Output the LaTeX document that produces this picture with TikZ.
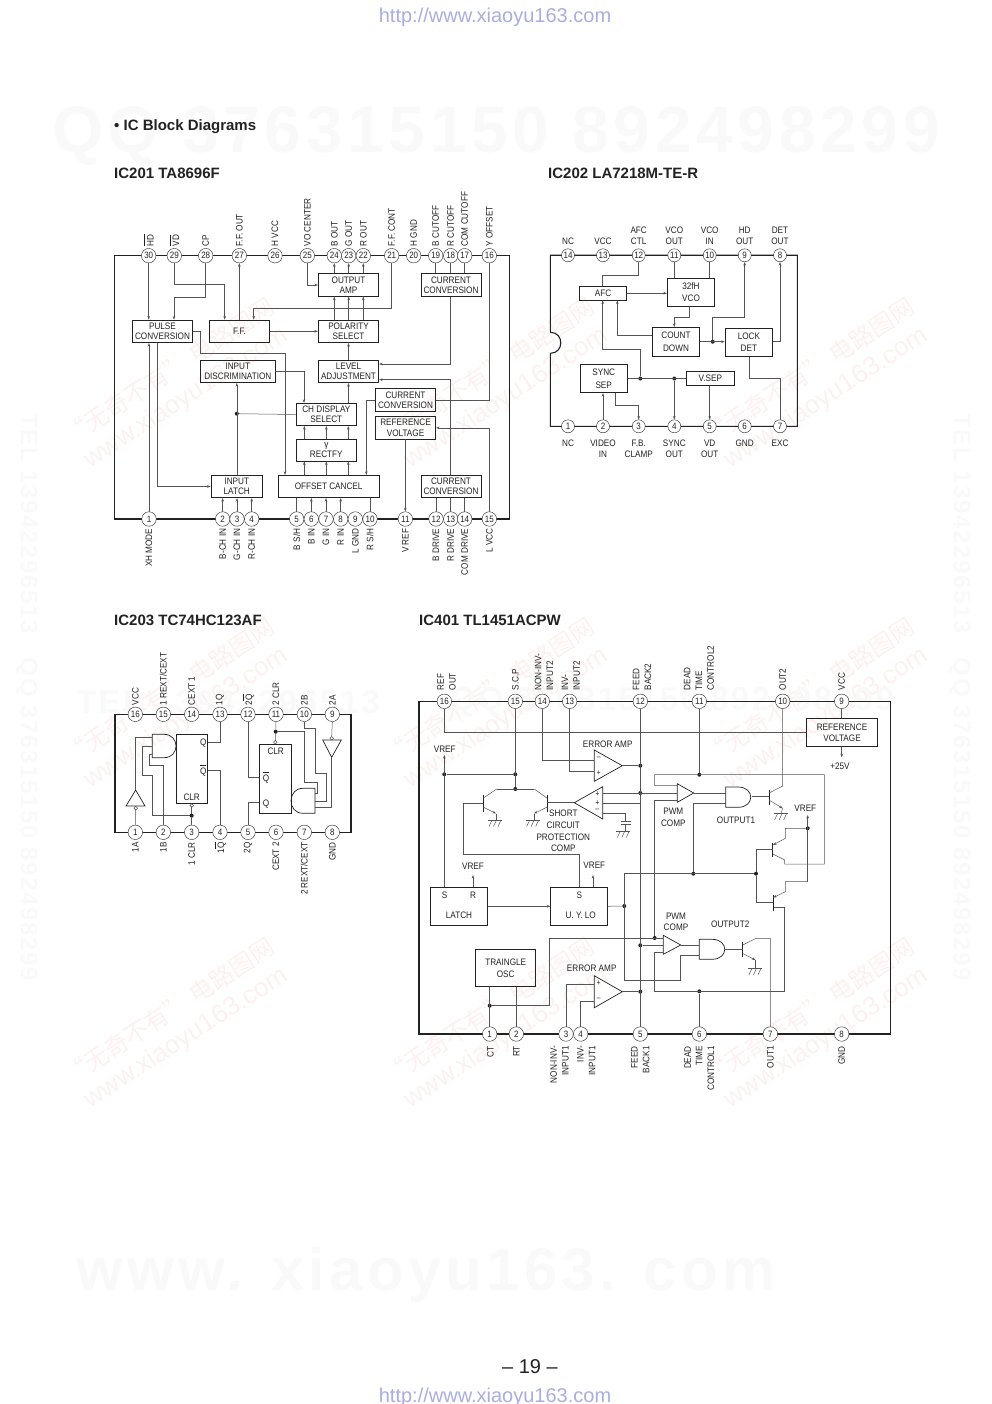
\documentclass[tikz,border=0pt]{standalone}
\usepackage{xcolor}
\usepackage{fontspec}
\setmainfont{Liberation Sans}[FakeStretch=0.87]
\newfontfamily\plainfont{Liberation Sans}
\newfontfamily\cjk{Noto Sans CJK SC}
\newfontfamily\wmfont{Liberation Sans}[LetterSpace=7]
\usetikzlibrary{arrows.meta,calc}
\definecolor{ink}{HTML}{222222}
\definecolor{trace}{HTML}{555555}
\definecolor{urlblue}{HTML}{A9ADE0}
\definecolor{stamp}{HTML}{FDF0EF}
\definecolor{ghost}{HTML}{F9F9F9}
\newcommand{\ovl}[1]{$\overline{\hbox{\rule{0pt}{7.8pt}#1}}$}
\tikzset{
  chip/.style={draw=ink,line width=1.1pt},
  pinc/.style={circle,draw=ink,line width=0.4pt,fill=white,minimum size=14.5pt,inner sep=0pt,font=\fontsize{9.2}{9.5}\selectfont,text=ink},
  toplbl/.style={rotate=90,anchor=west,align=left,inner sep=0pt,font=\fontsize{9.4}{11.7}\selectfont,text=ink},
  botlbl/.style={rotate=90,anchor=east,align=right,inner sep=0pt,font=\fontsize{9.4}{11.7}\selectfont,text=ink},
  blk/.style 2 args={draw=ink,line width=0.7pt,minimum width=#1pt,minimum height=#2pt,inner sep=0pt,align=center,text=ink,font=\fontsize{9.4}{10.2}\selectfont},
  blkb/.style 2 args={blk={#1}{#2},font=\fontsize{9.4}{12.2}\selectfont},
  wire/.style={draw=trace,line width=0.5pt},
  arrow/.style={wire,-{Stealth[length=3.6pt,width=2.6pt]}},
  dot/.style={circle,fill=ink,minimum size=4pt,inner sep=0pt},
  bubble/.style={circle,draw=ink,line width=0.4pt,fill=white,minimum size=3.6pt,inner sep=0pt},
  lbl/.style={inner sep=0pt,align=center,text=ink,font=\fontsize{9.4}{11.6}\selectfont},
  sign/.style={inner sep=0pt,text=ink,font=\fontsize{8}{8}\selectfont},
  gate/.style={draw=ink,line width=0.7pt},
  bar/.style={draw=ink,line width=1pt},
  title/.style={anchor=west,inner sep=0pt,text=ink,font=\fontsize{15}{17}\selectfont\plainfont\bfseries},
  gndsym/.pic={
    \draw[wire] (-7,0) -- (7,0);
    \foreach \k in {-4.5,0,4.5} \draw[wire] (\k+1.5,0) -- (\k-1.5,6.5);
  },
}
\begin{document}
\begin{tikzpicture}[x=1pt,y=-1pt]
  \useasboundingbox (0,0) rectangle (992,1404);
  % pale stamps behind the page
  \foreach \cx in {178,498,818} \foreach \cy in {385,705,1025} {
    \node[rotate=33,inner sep=0pt,text=stamp,align=center,font=\fontsize{24}{32}\selectfont\plainfont] at (\cx,\cy) {{\cjk “无奇不有” 电路图网}\\[-2pt]\fontsize{26}{30}\selectfont www.xiaoyu163.com};
  }
  \node[inner sep=0pt,text=ghost,font=\fontsize{66}{70}\selectfont\wmfont\bfseries] (wm1) at (496,136) {QQ 376315150 892498299};
  \node[inner sep=0pt,text=ghost,font=\fontsize{33}{36}\selectfont\wmfont\bfseries] (wm2) at (228,702) {TEL 13942296513};
  \node[inner sep=0pt,text=ghost,font=\fontsize{33}{36}\selectfont\wmfont\bfseries] (wm3) at (672,702) {QQ 376315150 892498299};
  \node[inner sep=0pt,text=ghost,font=\fontsize{60}{64}\selectfont\wmfont\bfseries] (wm4) at (426,1275) {www. xiaoyu163. com};
  \node[rotate=-90,inner sep=0pt,text=ghost,font=\fontsize{24}{26}\selectfont\wmfont\bfseries] (wm5) at (27,697) {TEL 13942296513\quad QQ 376315150 892498299};
  \node[rotate=-90,inner sep=0pt,text=ghost,font=\fontsize{24}{26}\selectfont\wmfont\bfseries] (wm6) at (960,697) {TEL 13942296513\quad QQ 376315150 892498299};

  \node[inner sep=0pt,text=urlblue,font=\fontsize{20}{22}\selectfont\plainfont] (urltop) at (495,17) {http://www.xiaoyu163.com};
  \node[inner sep=0pt,text=urlblue,font=\fontsize{20}{22}\selectfont\plainfont] (urlbot) at (495,1397) {http://www.xiaoyu163.com};
  \node[inner sep=0pt,text=ink,font=\fontsize{20}{22}\selectfont\plainfont] (pageno) at (530,1367) {– 19 –};
  \node[title] (head) at (114,126.5) {• IC Block Diagrams};
  \node[title] (t201) at (114,173) {IC201\ TA8696F};
  \node[title] (t202) at (548,173) {IC202\ LA7218M-TE-R};
  \node[title] (t203) at (114,620.5) {IC203\ TC74HC123AF};
  \node[title] (t401) at (419,620) {IC401\ TL1451ACPW};

  % IC201
  \draw[chip] (114.7,255.7) rectangle (509.7,519);
  \foreach \n/\x/\txt in {30/148.7/\ovl{HD},29/174.3/\ovl{VD},28/205.7/CP,27/239.3/F.F. OUT,26/275/H VCC,25/307.3/VO CENTER,24/334.3/B OUT,23/348.7/G OUT,22/363.3/R OUT,21/391.7/F.F. CONT,20/413.7/H GND,19/435.7/B CUTOFF,18/450.7/R CUTOFF,17/464.7/COM CUTOFF,16/489.3/Y OFFSET} {
    \node[pinc] (a\n) at (\x,255.7) {\n};
    \node[toplbl] (la\n) at (\x,246.5) {\txt};
  }
  \foreach \n/\x/\txt in {1/149/XH MODE,2/222.7/B-CH IN,3/237/G-CH IN,4/251.7/R-CH IN,5/296.7/B S/H,6/311.3/B IN,7/326/G IN,8/340.7/R IN,9/355.3/L GND,10/370/R S/H,11/405.3/V REF,12/436/B DRIVE,13/450.7/R DRIVE,14/464.7/COM DRIVE,15/489.3/L VCC} {
    \node[pinc] (a\n) at (\x,519) {\n};
  }
  \foreach \n/\x/\txt in {1/149/XH MODE,2/222.7/B-CH IN,3/237/G-CH IN,4/251.7/R-CH IN,6/311.3/B IN,7/326/G IN,8/340.7/R IN,9/355.3/L GND,11/405.3/V REF,12/436/B DRIVE,13/450.7/R DRIVE,14/464.7/COM DRIVE,15/489.3/L VCC}
    \node[botlbl] (lb\n) at (\x,528.5) {\txt};
  \node[botlbl] (lb5) at (296.7,528.5) {B S/H};
  \node[botlbl] (lb10) at (370,528.5) {R S/H};

  \node[blk={60.4}{22.6}] (oamp) at (348.5,285) {OUTPUT\\AMP};
  \node[blk={60}{22.6}] (cc1) at (451,285) {CURRENT\\CONVERSION};
  \node[blk={60.4}{22.6}] (pulse) at (162.5,331.3) {PULSE\\CONVERSION};
  \node[blk={60.4}{22.6}] (ff) at (239.5,331.3) {F.F.};
  \node[blk={60.4}{22.6}] (pol) at (348.5,331.3) {POLARITY\\SELECT};
  \node[blk={74.3}{22.4}] (indisc) at (237.8,371.5) {INPUT\\DISCRIMINATION};
  \node[blk={60.4}{22.4}] (level) at (348.5,371.5) {LEVEL\\ADJUSTMENT};
  \node[blk={60.4}{22.6}] (cc2) at (405.5,400) {CURRENT\\CONVERSION};
  \node[blk={60.4}{22.4}] (refv) at (405.5,427.8) {REFERENCE\\VOLTAGE};
  \node[blk={60.7}{22.4}] (chd) at (326.3,414.5) {CH DISPLAY\\SELECT};
  \node[blk={60.7}{22}] (rect) at (326.3,450) {γ\\RECTFY};
  \node[blk={51.7}{22.4}] (inlatch) at (236.8,486.5) {INPUT\\LATCH};
  \node[blk={101.3}{22.4}] (offs) at (328.6,486.5) {OFFSET CANCEL};
  \node[blk={60}{22.4}] (cc3) at (451,486.5) {CURRENT\\CONVERSION};
  \node[dot] (d201) at (236.8,413.7) {};

  \draw[arrow] (a30.south) -- (a30.south |- pulse.north);
  \draw[arrow] (a29.south) |- (224.7,284.3) -- (224.7,0 |- ff.north);
  \draw[arrow] (a28.south) |- (174,297.7) -- (174,0 |- pulse.north);
  \draw[arrow] (ff.north -| a27) -- (a27.south);
  \draw[arrow] (a25.south) |- (oamp.west);
  \foreach \n in {24,23,22} {
    \draw[arrow] (oamp.north -| a\n) -- (a\n.south);
    \draw[arrow] (pol.north -| a\n) -- (oamp.south -| a\n);
  }
  \draw[arrow] (a21.south) |- (253.7,308) -- (253.7,0 |- ff.north);
  \foreach \n in {19,18,17} \draw[wire] (a\n.south) -- (cc1.north -| a\n);
  \draw[arrow] (cc1.south -| a18) |- (level.east |- 0,364);
  \draw[arrow] (cc3.north -| a13) |- (level.east |- 0,379.7);
  \draw[wire] (a16.south) |- (cc2.east);
  \draw[arrow] (ff.east) -- (pol.west);
  \draw[arrow] (level.north) -- (pol.south);
  \draw[arrow] (chd.north -| level) -- (level.south);
  \draw[arrow] (indisc.east |- 0,371.7) -| (304,0 |- chd.north);
  \draw[arrow] (pulse.east) -| (200,353.3) -| (285,0 |- offs.north);
  \draw[arrow] (157.7,0 |- pulse.south) |- (inlatch.west);
  \draw[arrow] (a1.north) -- (a1.north |- pulse.south);
  \draw[arrow] (inlatch.north) -- (indisc.south -| inlatch);
  \draw[wire] (chd.west) -- (d201);
  \foreach \x in {304.3,326.3,348.3} {
    \draw[arrow] (\x,0 |- rect.north) -- (\x,0 |- chd.south);
    \draw[arrow] (\x,0 |- offs.north) -- (\x,0 |- rect.south);
  }
  \draw[arrow] (cc2.west) -| (366.3,0 |- offs.north);
  \draw[arrow] (a15.north) |- (refv.east);
  \draw[arrow] (refv.south -| a11) -- (a11.north);
  \foreach \n in {2,3,4} \draw[arrow] (a\n.north) -- (a\n.north |- inlatch.south);
  \foreach \n in {6,7,8} \draw[arrow] (a\n.north) -- (a\n.north |- offs.south);
  \foreach \n in {5,10} \draw[wire] (a\n.north) -- (a\n.north |- offs.south);
  \foreach \n in {12,13,14} \draw[wire] (a\n.north) -- (a\n.north |- cc3.south);

  % IC202
  \draw[chip] (550.3,332.3) -- (550.3,255.3) -- (797.3,255.3) -- (797.3,426.3) -- (550.3,426.3) -- (550.3,353.3) .. controls (564.3,353.3) and (564.3,332.3) .. (550.3,332.3);
  \foreach \n/\x/\txt in {14/568/NC,13/603/VCC,12/638.7/AFC\\CTL,11/674.3/VCO\\OUT,10/709.7/VCO\\IN,9/744.7/HD\\OUT,8/780/DET\\OUT} {
    \node[pinc,minimum size=13pt] (b\n) at (\x,255.3) {\n};
    \node[lbl,anchor=south] (lb\n) at (\x,245) {\txt};
  }
  \foreach \n/\x/\txt in {1/568/NC,2/603/VIDEO\\IN,3/638.7/F.B.\\CLAMP,4/674.3/SYNC\\OUT,5/709.7/VD\\OUT,6/744.7/GND,7/780/EXC} {
    \node[pinc,minimum size=13pt] (b\n) at (\x,426.3) {\n};
    \node[lbl,anchor=north] (lc\n) at (\x,439.5) {\txt};
  }
  \node[blkb={47.4}{13.7}] (afc) at (603,293.2) {AFC};
  \node[blkb={47.4}{28}] (vco) at (691,292.3) {32fH\\VCO};
  \node[blkb={47.4}{28.7}] (cnt) at (676,341.7) {COUNT\\DOWN};
  \node[blkb={47.7}{28.4}] (lock) at (748.9,342.5) {LOCK\\DET};
  \node[blkb={47.3}{28}] (sync) at (603.7,378.7) {SYNC\\SEP};
  \node[blkb={47.3}{14.4}] (vsep) at (710.3,378.5) {V.SEP};
  \node[dot] (d1) at (712.7,341.7) {};
  \node[dot] (d2) at (640.3,378.5) {};
  \node[dot] (d3) at (674.3,378.5) {};
  \draw[wire] (b12.south) |- (602.7,275.3) -- (602.7,0 |- afc.north);
  \draw[wire] (b11.south) -- (b11.south |- vco.north);
  \draw[wire] (b10.south) -- (b10.south |- vco.north);
  \draw[arrow] (afc.east) -- (vco.west |- afc.east);
  \draw[arrow] (689.7,0 |- vco.south) |- (674.3,317.3) -- (674.3,0 |- cnt.north);
  \draw[arrow] (cnt.west |- 0,335) -| (617.3,0 |- afc.south);
  \draw[arrow] (cnt.east) -- (lock.west |- cnt.east);
  \draw[arrow] (d1) |- (744.7,317.7) -- (b9.south);
  \draw[arrow] (lock.east |- d1) -| (b8.south);
  \draw[wire] (749.3,0 |- lock.south) |- (780,378.3) -- (b7.north);
  \draw[wire] (sync.east |- vsep.west) -- (vsep.west);
  \draw[arrow] (d2) |- (602.7,349.7) -- (602.7,0 |- afc.south);
  \draw[arrow] (d3) -- (b4.north);
  \draw[arrow] (vsep.south -| b5) -- (b5.north);
  \draw[arrow] (b2.north) -- (b2.north |- sync.south);
  \draw[arrow] (615.7,0 |- sync.south) |- (638.7,405.3) -- (b3.north);

  % IC203
  \draw[chip] (115,714.3) rectangle (351,832.3);
  \foreach \n/\x/\txt in {16/135.3/VCC,15/163.3/1 REXT/CEXT,14/191.7/CEXT 1,13/220/1Q,12/248/2\ovl{Q},11/276/2 CLR,10/304.3/2B,9/332.3/2A} {
    \node[pinc] (c\n) at (\x,714.3) {\n};
  }
  \foreach \n/\x/\txt in {16/135.3/VCC,14/191.7/CEXT 1,13/220/1Q,12/248/2\ovl{Q},11/276/2 CLR,10/304.3/2B,9/332.3/2A}
    \node[toplbl] (ld\n) at (\x,705.5) {\txt};
  \node[toplbl] (ld15) at (163.3,705.5) {1 REXT/CEXT};
  \foreach \n/\x in {1/135.3,2/163.3,3/191.7,4/220,5/248,6/276,7/304.3,8/332.3} \node[pinc] (c\n) at (\x,832.3) {\n};
  \foreach \n/\x/\txt in {1/135.3/1A,2/163.3/1B,3/191.7/1 CLR,4/220/1\ovl{Q},5/248/2Q,6/276/CEXT 2,8/332.3/GND}
    \node[botlbl] (le\n) at (\x,842) {\txt};
  \node[botlbl] (le7) at (304.3,842) {2 REXT/CEXT};

  \node[blk={31.4}{69}] (ffa) at (192,768.8) {};
  \node[blk={32}{69}] (ffb) at (275.3,778.8) {};
  \node[lbl] (qa) at (203.3,743.3) {Q};
  \node[lbl] (qna) at (203.3,770) {\ovl{Q}};
  \node[lbl] (clra) at (191.7,797.7) {CLR};
  \node[lbl] (qb) at (266,804.3) {Q};
  \node[lbl] (qnb) at (266,777) {\ovl{Q}};
  \node[lbl] (clrb) at (275.7,751.7) {CLR};
  \draw[gate] (152.3,734.3) -- (164,734.3) .. controls (180,734.3) and (180,757.7) .. (164,757.7) -- (152.3,757.7) -- cycle;
  \draw[gate] (315,788.3) -- (303,788.3) .. controls (287,788.3) and (287,813.3) .. (303,813.3) -- (315,813.3) -- cycle;
  \draw[gate] (135.7,790) -- (126,806) -- (145,806) -- cycle;
  \draw[gate] (331.7,757.3) -- (322.7,740) -- (341.3,740) -- cycle;
  \node[bubble] (inva) at (135.7,808.2) {};
  \node[bubble] (invb) at (331.7,738.3) {};
  \node[bubble] (bca) at (191.7,805.4) {};
  \node[bubble] (bcb) at (275.3,742.2) {};
  \node[dot] (dca) at (191.7,815.7) {};
  \node[dot] (dcb) at (275.7,731.7) {};
  \draw[wire] (c1.north) -- (inva.south);
  \draw[wire] (135.7,790) |- (152.3,737.7);
  \draw[wire] (152.3,746.7) -| (142.3,775) -| (152.3,815.7) -- (dca);
  \draw[wire] (c2.north) |- (149.3,765.7) |- (152.3,754.3);
  \draw[wire] (c3.north) -- (dca) -- (bca.south);
  \draw[wire] (ffa.east |- 0,742.3) -| (c13.south);
  \draw[wire] (ffa.east |- 0,770) -| (c4.north);
  \draw[wire] (c12.south) |- (ffb.west |- 0,777);
  \draw[wire] (c5.north) |- (ffb.west |- 0,802.5);
  \draw[wire] (c11.south) -- (dcb) -- (bcb.north);
  \draw[wire] (dcb) -| (304.3,782.3) -| (317.3,793.3) -- (315,793.3);
  \draw[wire] (c10.south) |- (315,728.3) |- (326,773.3) |- (315,801);
  \draw[wire] (c9.south) -- (invb.north);
  \draw[wire] (331.7,757.3) |- (315,807.7);

  % IC401
  \draw[chip] (419,701.3) rectangle (890.3,1034);
  \foreach \n/\x in {16/444.3,15/515.3,14/542.3,13/569.7,12/640.3,11/699.3,10/782.7,9/841.7} \node[pinc] (d\n) at (\x,701.3) {\n};
  \foreach \n/\x/\txt in {16/446.5/REF\\OUT,15/515.3/S.C.P,14/544/NON-INV-\\INPUT2,13/570.8/INV-\\INPUT2,12/642/FEED\\BACK2,11/699/DEAD\\TIME\\CONTROL2,10/782.7/OUT2,9/841.7/VCC}
    \node[toplbl] (lf\n) at (\x,690.5) {\txt};
  \foreach \n/\x in {1/489.7,2/516.3,3/566,4/580.7,5/640.3,6/699.3,7/770.3,8/841.7} \node[pinc] (d\n) at (\x,1034) {\n};
  \foreach \n/\x/\txt in {1/490.5/CT,2/516.3/RT,3/559.5/NON-INV-\\INPUT1,4/586.3/INV-\\INPUT1,5/640.3/FEED\\BACK1,6/699.3/DEAD\\TIME\\CONTROL1,7/770.3/OUT1,8/841.7/GND}
    \node[botlbl] (lg\n) at (\x,1046) {\txt};

  \node[blk={71.4}{28},font=\fontsize{9.4}{11}\selectfont] (refb) at (842,732.3) {REFERENCE\\VOLTAGE};
  \node[blk={57}{37.3}] (latch) at (458.8,906.3) {};
  \node[blk={56.6}{37.3}] (uylo) at (579,906.3) {};
  \node[blkb={60}{36.6}] (osc) at (505.7,968) {TRAINGLE\\OSC};
  \node[lbl] (ts1) at (444.7,895.7) {S};
  \node[lbl] (tr1) at (473,895.7) {R};
  \node[lbl] (tlatch) at (459,915.3) {LATCH};
  \node[lbl] (ts2) at (579.3,895.7) {S};
  \node[lbl] (tuy) at (580.7,915.3) {U. Y. LO};
  \node[lbl] (vr1) at (444.7,749.3) {VREF};
  \node[lbl] (vr2) at (473,866.3) {VREF};
  \node[lbl] (vr3) at (594.3,865.5) {VREF};
  \node[lbl] (vr4) at (805.3,808.3) {VREF};
  \node[lbl] (p25) at (840,766) {+25V};
  \node[lbl] (ea1) at (607.7,744.3) {ERROR AMP};
  \node[lbl] (ea2) at (591.7,968.3) {ERROR AMP};
  \node[lbl] (scp) at (563.3,831) {SHORT\\CIRCUIT\\PROTECTION\\COMP};
  \node[lbl] (pw1) at (673.3,817.5) {PWM\\COMP};
  \node[lbl] (pw2) at (676,921.7) {PWM\\COMP};
  \node[lbl] (ou1) at (736,820.3) {OUTPUT1};
  \node[lbl] (ou2) at (730.3,924.3) {OUTPUT2};

  % amps and comparators
  \draw[gate] (594.3,750) -- (622.3,765.7) -- (594.3,781.3) -- cycle;
  \draw[gate] (594.3,975.7) -- (622.3,991.7) -- (594.3,1007.7) -- cycle;
  \draw[gate] (602.7,786.7) -- (574.3,802.7) -- (602.7,819) -- cycle;
  \draw[gate] (677.3,783.7) -- (693.7,793) -- (677.3,802.3) -- cycle;
  \draw[gate] (663.3,935.3) -- (680.7,945) -- (663.3,954.3) -- cycle;
  \draw[gate] (725.7,787) -- (738,787) .. controls (755,787) and (755,807.3) .. (738,807.3) -- (725.7,807.3) -- cycle;
  \draw[gate] (699.3,939.3) -- (712,939.3) .. controls (729,939.3) and (729,959.3) .. (712,959.3) -- (699.3,959.3) -- cycle;
  \node[sign] (s1) at (598.7,758.3) {–};
  \node[sign] (s2) at (598.7,773.3) {+};
  \node[sign] (s3) at (598.7,983.3) {+};
  \node[sign] (s4) at (598.7,999.3) {–};
  \node[sign] (s5) at (597.3,794) {+};
  \node[sign] (s6) at (597.3,803.3) {+};
  \node[sign] (s7) at (597.3,810.3) {–};

  % dots
  \foreach \nm/\x/\y in {e1/444.3/774.3,e2/515.3/774.3,e3/515.3/789,e4/640.3/765.7,e5/640.3/793,e6/699.3/774.7,e7/807.7/828.3,e8/693.3/873.7,e9/756/873.7,e10/624.3/906,e11/654.7/938,e12/640.3/945.3,e13/640.3/991.7,e14/699.3/991.3,e15/489.7/1005.7}
    \node[dot] (\nm) at (\x,\y) {};

  % wires
  \draw[wire] (d16.south) |- (refb.west);
  \draw[wire] (d9.south) -- (d9.south |- refb.north);
  \draw[arrow] (refb.south -| d9) -- (841.7,757.3);
  \draw[wire] (d15.south) -- (e3);
  \draw[arrow] (444.3,0 |- latch.north) -- (444.3,755);
  \draw[wire] (e1) -- (e2);
  \draw[wire] (d14.south) |- (594.3,760);
  \draw[wire] (d13.south) |- (594.3,771.7);
  \draw[wire] (622.3,765.7) -- (e4);
  \draw[wire] (d12.south) -- (d5.north);
  \draw[wire] (602.7,793) -- (677.3,793);
  \draw[wire] (602.7,803.3) -- (640.3,803.3);
  \draw[wire] (602.7,813.3) -| (625.7,821.7);
  \draw[wire] (621,821.7) -- (630.5,821.7) (621,824.5) -- (630.5,824.5) (625.7,824.5) -- (625.7,831);
  \pic at (623.3,831) {gndsym};

  % short circuit pair
  \draw[wire] (496.7,789) -- (534.3,789);
  \draw[bar] (483,795) -- (483,811.7);
  \draw[bar] (547.3,795) -- (547.3,811.7);
  \draw[wire] (uylo.north -| 579,0) |- (463.3,854.3) |- (483,803.3);
  \draw[wire] (483,798.3) -- (496.7,789);
  \draw[wire] (547.3,798.3) -- (534.3,789);
  \draw[arrow] (483,807) -- (496,813.5);
  \draw[arrow] (547.3,807) -- (534,813.5);
  \draw[wire] (496,813.5) -- (496,820) (534,813.5) -- (534,820);
  \pic at (495,820) {gndsym};
  \pic at (532.7,820) {gndsym};
  \draw[wire] (574.3,802.7) -- (547.3,802.7);

  % latch and lockout
  \draw[arrow] (473,0 |- latch.north) -- (473,875);
  \draw[arrow] (593,0 |- uylo.north) -- (593,875);
  \draw[arrow] (latch.east) -- (uylo.west);
  \draw[wire] (uylo.east) -- (e10);
  \draw[wire] (e9) -| (624.3,980.3) -| (680.7,955.3) -- (699.3,955.3);
  \draw[wire] (e8) |- (725.7,803.3);
  \draw[wire] (693.7,793) -- (725.7,793);
  \draw[wire] (680.7,945) -- (699.3,945);
  \draw[wire] (e12) -- (663.3,945.3);

  % dead time
  \draw[wire] (e15) -| (549.3,938) -- (663.3,938);
  \draw[wire] (e11) |- (677.3,800);
  \draw[wire] (663.3,952.3) -| (654.7,991.3) -- (784.7,991.3) |- (773,907);
  \draw[wire] (d6.north) -- (e14);
  \draw[wire] (d11.south) -- (e6);
  \draw[wire] (677.3,785.7) -| (654.7,774.7) -| (824.3,864) -- (784.7,864) -- (784.7,860) -- (772.7,854);

  % output transistors
  \draw[bar] (769,790) -- (769,805);
  \draw[wire] (751.7,796.7) -- (769,796.7);
  \draw[wire] (d10.south) -- (782.7,786) -- (769,793);
  \draw[arrow] (769,800) -- (782.7,808.3);
  \draw[wire] (782.7,808.3) -- (781,813.3);
  \pic at (780.7,813.3) {gndsym};
  \draw[bar] (772.7,842.7) -- (772.7,857.3);
  \draw[wire] (e9) |- (772.7,849.7);
  \draw[arrow] (807.7,881.7) -- (807.7,815);
  \draw[arrow] (e7) -- (785.3,828.3) -- (785.3,838.3) -- (773,845);
  \draw[bar] (773,895) -- (773,911);
  \draw[wire] (e9) |- (773,902.7);
  \draw[arrow] (807.7,881.7) -- (785.3,881.7) -- (785.3,891.7) -- (773.5,897.5);
  \draw[wire] (624.3,873.7) -- (e9);
  \draw[bar] (742.7,941.7) -- (742.7,957.3);
  \draw[wire] (725,949.3) -- (742.7,949.3);
  \draw[wire] (d7.north) |- (756,938.3) -- (742.7,945);
  \draw[arrow] (742.7,953.5) -- (755.5,960);
  \draw[wire] (755.5,960) -- (755.5,968.3);
  \pic at (755,968.3) {gndsym};

  % bottom inputs
  \draw[wire] (d1.north) -- (d1.north |- osc.south);
  \draw[wire] (d2.north) -- (d2.north |- osc.south);
  \draw[wire] (d3.north) |- (594.3,984);
  \draw[wire] (d4.north) |- (594.3,1001);
  \draw[wire] (622.3,991.7) -- (e13);
\end{tikzpicture}
\end{document}
